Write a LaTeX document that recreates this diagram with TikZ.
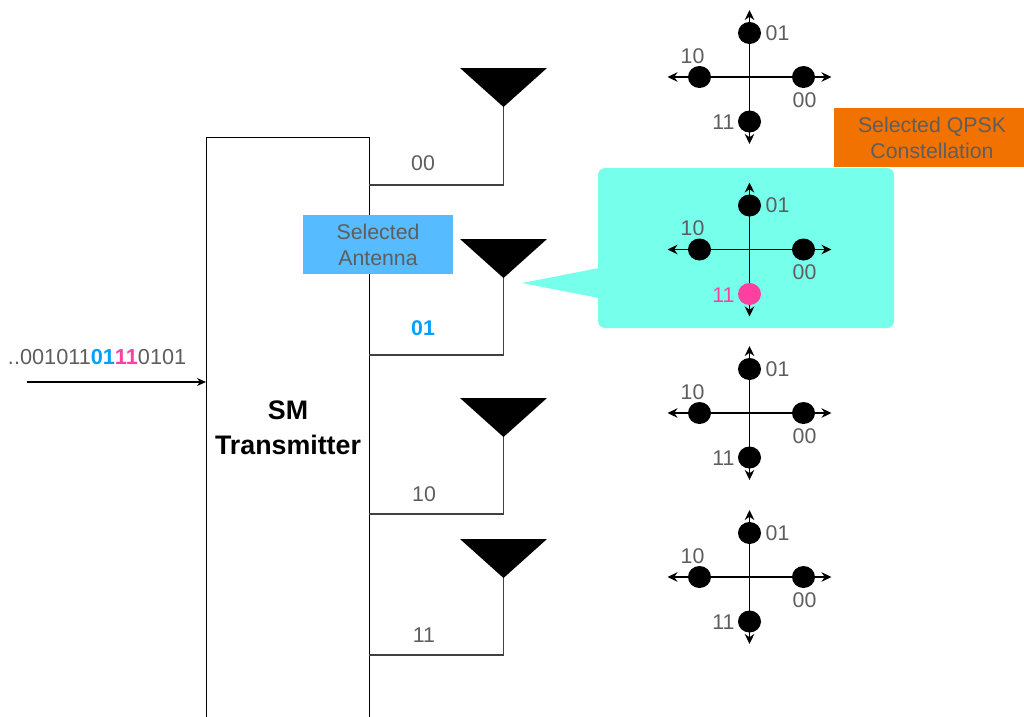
\documentclass[tikz,border=0pt]{standalone}
\usepackage{fontspec}
\setmainfont{Liberation Sans}
\usetikzlibrary{arrows.meta,shapes.geometric}
\definecolor{labelColor}{RGB}{94,94,94}
\definecolor{orangeColor}{RGB}{242,114,0}
\definecolor{antennaColor}{RGB}{87,187,255}
\definecolor{calloutColor}{RGB}{118,255,235}
\definecolor{pinkColor}{RGB}{255,64,160}
\definecolor{blueColor}{RGB}{0,160,255}
\tikzset{
  txt/.style={text=labelColor,inner sep=0pt,outer sep=0pt,font=\fontsize{21.3}{26}\selectfont},
  dot/.style={ellipse,fill=#1,minimum width=23pt,minimum height=22pt,inner sep=0pt},
  dot/.default=black,
  axis/.style={line width=1.7pt,{Stealth[length=10pt,width=9.5pt]}-{Stealth[length=10pt,width=9.5pt]}},
  feed/.style={line width=1.8pt,draw=black!75},
  tagbox/.style={txt,align=center,font=\fontsize{21.3}{26}\selectfont},
}
% one constellation: name, x, y, colour of lower point
\newcommand{\constel}[5]{
  \coordinate (#1w) at (#2-82,#3);
  \coordinate (#1e) at (#2+82,#3);
  \coordinate (#1n) at (#2,#3-67);
  \coordinate (#1s) at (#2,#3+67);
  \draw[axis] (#1w) -- (#1e);
  \draw[axis] (#1n) -- (#1s);
  \node[dot] (#1a) at (#2,#3-44) {};
  \node[dot] (#1b) at (#2-50,#3) {};
  \node[dot] (#1c) at (#2+54,#3) {};
  \node[dot=#4] (#1d) at (#2,#3+44.5) {};
  \node[txt] (#1la) at (#2+28,#3-44) {01};
  \node[txt] (#1lb) at (#2-57,#3-21) {10};
  \node[txt] (#1lc) at (#2+55,#3+23) {00};
  \node[txt,text=#5] (#1ld) at (#2-26,#3+45.5) {11};
}
% one antenna: name, top y, feed y
\newcommand{\antenna}[3]{
  \coordinate (#1tip) at (503.5,#2+39);
  \coordinate (#1end) at (503.5,#3);
  \coordinate (#1port) at (369,#3);
  \fill (460,#2) -- (547,#2) -- (#1tip) -- cycle;
  \draw[feed,line join=miter] (#1tip) -- (#1end) -- (#1port);
}
\begin{document}
\begin{tikzpicture}[x=1pt,y=-1pt]
\useasboundingbox (0,0) rectangle (1024,716);

% transmitter
\node[draw,line width=1.2pt,minimum width=163pt,minimum height=600pt,anchor=north west,inner sep=0pt] (tx) at (206,137) {};
\node[inner sep=0pt,align=center,font=\fontsize{26.8}{35}\selectfont\bfseries] (txlabel) at (288,428) {SM\\Transmitter};

\coordinate (instart) at (27,382);
\coordinate (inend) at (206,382);
\draw[line width=1.6pt,-{Stealth[length=9pt,width=8pt]}] (instart) -- (inend);
\node[txt,anchor=base west,font=\fontsize{21.7}{26}\selectfont] (bits) at (8,364) {..001011\textcolor{blueColor}{\bfseries 01}\textcolor{pinkColor}{\bfseries 11}0101};

% antennas
\antenna{aa}{68}{185}
\antenna{ab}{239}{355}
\antenna{ac}{398}{514}
\antenna{ad}{539}{655}

\node[txt] (fa) at (423,163) {00};
\node[txt,text=blueColor,font=\fontsize{21.3}{26}\selectfont\bfseries] (fb) at (423,328) {01};
\node[txt] (fc) at (424,494) {10};
\node[txt] (fd) at (424,635) {11};

% tags
\fill[antennaColor] (303,215) rectangle (453,274);
\node[tagbox] (seant) at (378,244.5) {Selected\\Antenna};
\fill[orangeColor] (834,108) rectangle (1024,167);
\node[tagbox] (seqpsk) at (932,137.5) {Selected QPSK\\Constellation};

% callout
\fill[calloutColor,rounded corners=7pt] (598,168) rectangle (894,328);
\fill[calloutColor] (599,268) -- (522,283) -- (599,298) -- cycle;

% constellations
\constel{ca}{749.5}{77}{black}{labelColor}
\constel{cb}{749.5}{249.5}{pinkColor}{pinkColor}
\constel{cc}{749.5}{413}{black}{labelColor}
\constel{cd}{749.5}{577}{black}{labelColor}
\end{tikzpicture}
\end{document}
